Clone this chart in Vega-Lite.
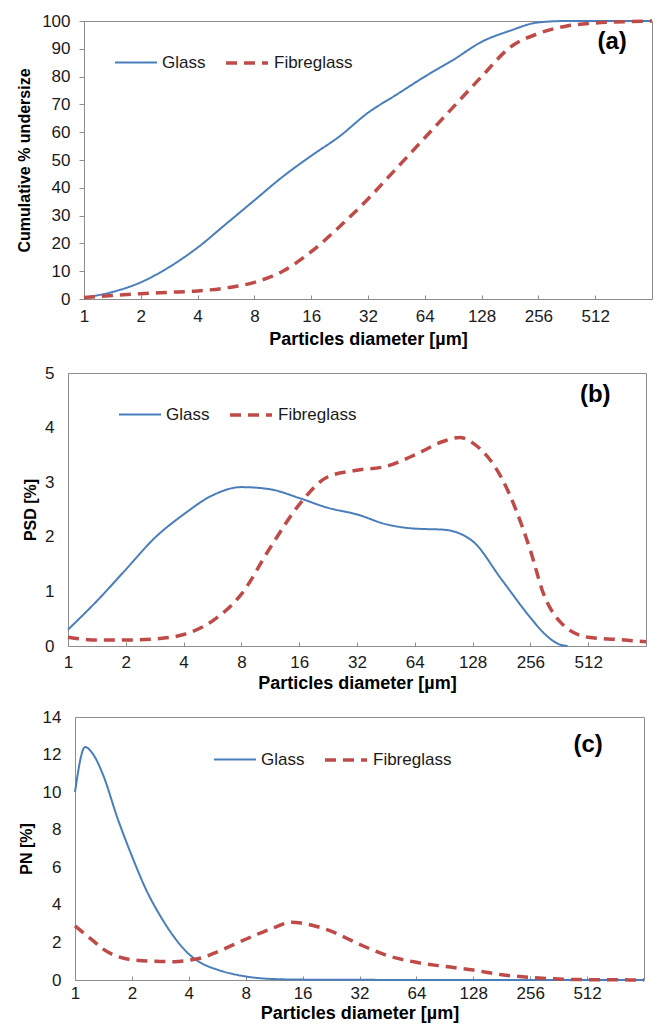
{
  "$schema": "https://vega.github.io/schema/vega-lite/v6.json",
  "padding": {"left": 12, "top": 11, "right": 4, "bottom": 0},
  "background": "white",
  "config": {
    "font": "Liberation Sans",
    "view": {"stroke": "#8c8c8c", "strokeWidth": 1},
    "axis": {
      "grid": false,
      "domainColor": "#8c8c8c",
      "tickColor": "#8c8c8c",
      "labelFont": "Liberation Sans",
      "labelFontSize": 17,
      "labelColor": "#1a1a1a",
      "labelOverlap": false,
      "titleFont": "Liberation Sans",
      "titleFontWeight": "bold",
      "titleColor": "#000000"
    },
    "axisX": {"titleFontSize": 18, "tickSize": -4},
    "axisY": {"titleFontSize": 16},
    "legend": {
      "orient": "none",
      "direction": "horizontal",
      "symbolType": "stroke",
      "symbolSize": 1764,
      "labelFont": "Liberation Sans",
      "labelFontSize": 17,
      "labelColor": "#1a1a1a",
      "labelOffset": 4,
      "columnPadding": 13,
      "padding": 0,
      "title": null
    }
  },
  "resolve": {
    "scale": {"x": "independent", "y": "independent", "color": "independent", "strokeDash": "independent", "strokeWidth": "independent"},
    "legend": {"color": "independent", "strokeDash": "independent", "strokeWidth": "independent"}
  },
  "datasets": {
    "a": [
      {"m": "Glass", "d": 1, "v": 0.5}, {"m": "Glass", "d": 1.41, "v": 2.5}, {"m": "Glass", "d": 2, "v": 6},
      {"m": "Glass", "d": 2.83, "v": 11.5}, {"m": "Glass", "d": 4, "v": 18.5}, {"m": "Glass", "d": 5.66, "v": 27},
      {"m": "Glass", "d": 8, "v": 35.5}, {"m": "Glass", "d": 11.3, "v": 44}, {"m": "Glass", "d": 16, "v": 51.5},
      {"m": "Glass", "d": 22.6, "v": 58.5}, {"m": "Glass", "d": 32, "v": 67}, {"m": "Glass", "d": 45.3, "v": 73.5},
      {"m": "Glass", "d": 64, "v": 80}, {"m": "Glass", "d": 90.5, "v": 86}, {"m": "Glass", "d": 128, "v": 92.5},
      {"m": "Glass", "d": 181, "v": 96.5}, {"m": "Glass", "d": 256, "v": 99.5}, {"m": "Glass", "d": 362, "v": 100},
      {"m": "Glass", "d": 512, "v": 100}, {"m": "Glass", "d": 724, "v": 100}, {"m": "Glass", "d": 1024, "v": 100},
      {"m": "Fibreglass", "d": 1, "v": 0.5}, {"m": "Fibreglass", "d": 1.41, "v": 1.3}, {"m": "Fibreglass", "d": 2, "v": 1.9},
      {"m": "Fibreglass", "d": 2.83, "v": 2.4}, {"m": "Fibreglass", "d": 4, "v": 2.9}, {"m": "Fibreglass", "d": 5.66, "v": 4},
      {"m": "Fibreglass", "d": 8, "v": 6}, {"m": "Fibreglass", "d": 11.3, "v": 10}, {"m": "Fibreglass", "d": 16, "v": 17},
      {"m": "Fibreglass", "d": 22.6, "v": 26}, {"m": "Fibreglass", "d": 32, "v": 36}, {"m": "Fibreglass", "d": 45.3, "v": 47},
      {"m": "Fibreglass", "d": 64, "v": 58}, {"m": "Fibreglass", "d": 90.5, "v": 69}, {"m": "Fibreglass", "d": 128, "v": 80},
      {"m": "Fibreglass", "d": 181, "v": 90.5}, {"m": "Fibreglass", "d": 256, "v": 95.5}, {"m": "Fibreglass", "d": 362, "v": 98.2},
      {"m": "Fibreglass", "d": 512, "v": 99.3}, {"m": "Fibreglass", "d": 724, "v": 99.7}, {"m": "Fibreglass", "d": 1024, "v": 100}
    ],
    "b": [
      {"m": "Glass", "d": 1, "v": 0.3}, {"m": "Glass", "d": 1.41, "v": 0.82}, {"m": "Glass", "d": 2, "v": 1.4},
      {"m": "Glass", "d": 2.83, "v": 1.98}, {"m": "Glass", "d": 4, "v": 2.41}, {"m": "Glass", "d": 5.66, "v": 2.76},
      {"m": "Glass", "d": 8, "v": 2.91}, {"m": "Glass", "d": 11.3, "v": 2.87}, {"m": "Glass", "d": 16, "v": 2.71},
      {"m": "Glass", "d": 22.6, "v": 2.53}, {"m": "Glass", "d": 32, "v": 2.41}, {"m": "Glass", "d": 45.3, "v": 2.23},
      {"m": "Glass", "d": 64, "v": 2.15}, {"m": "Glass", "d": 90.5, "v": 2.13}, {"m": "Glass", "d": 128, "v": 1.92},
      {"m": "Glass", "d": 181, "v": 1.22}, {"m": "Glass", "d": 256, "v": 0.52}, {"m": "Glass", "d": 300, "v": 0.24},
      {"m": "Glass", "d": 362, "v": 0.03}, {"m": "Glass", "d": 400, "v": 0},
      {"m": "Fibreglass", "d": 1, "v": 0.16}, {"m": "Fibreglass", "d": 1.41, "v": 0.11}, {"m": "Fibreglass", "d": 2, "v": 0.11},
      {"m": "Fibreglass", "d": 2.83, "v": 0.13}, {"m": "Fibreglass", "d": 4, "v": 0.21}, {"m": "Fibreglass", "d": 5.66, "v": 0.46},
      {"m": "Fibreglass", "d": 8, "v": 0.95}, {"m": "Fibreglass", "d": 11.3, "v": 1.8}, {"m": "Fibreglass", "d": 16, "v": 2.59},
      {"m": "Fibreglass", "d": 22.6, "v": 3.1}, {"m": "Fibreglass", "d": 32, "v": 3.22}, {"m": "Fibreglass", "d": 45.3, "v": 3.29},
      {"m": "Fibreglass", "d": 64, "v": 3.5}, {"m": "Fibreglass", "d": 90.5, "v": 3.75}, {"m": "Fibreglass", "d": 110, "v": 3.82},
      {"m": "Fibreglass", "d": 128, "v": 3.72}, {"m": "Fibreglass", "d": 181, "v": 3.08}, {"m": "Fibreglass", "d": 256, "v": 1.75},
      {"m": "Fibreglass", "d": 300, "v": 0.95}, {"m": "Fibreglass", "d": 362, "v": 0.46}, {"m": "Fibreglass", "d": 512, "v": 0.16},
      {"m": "Fibreglass", "d": 724, "v": 0.12}, {"m": "Fibreglass", "d": 1024, "v": 0.08}
    ],
    "c": [
      {"m": "Glass", "d": 1, "v": 10.0}, {"m": "Glass", "d": 1.13, "v": 12.4}, {"m": "Glass", "d": 1.25, "v": 12.0},
      {"m": "Glass", "d": 1.41, "v": 10.9}, {"m": "Glass", "d": 1.68, "v": 8.6}, {"m": "Glass", "d": 2, "v": 6.6},
      {"m": "Glass", "d": 2.38, "v": 4.8}, {"m": "Glass", "d": 2.83, "v": 3.4}, {"m": "Glass", "d": 3.36, "v": 2.26},
      {"m": "Glass", "d": 4, "v": 1.38}, {"m": "Glass", "d": 4.76, "v": 0.85}, {"m": "Glass", "d": 5.66, "v": 0.55},
      {"m": "Glass", "d": 8, "v": 0.19}, {"m": "Glass", "d": 11.3, "v": 0.05}, {"m": "Glass", "d": 16, "v": 0.02},
      {"m": "Glass", "d": 32, "v": 0.01}, {"m": "Glass", "d": 64, "v": 0}, {"m": "Glass", "d": 1024, "v": 0},
      {"m": "Fibreglass", "d": 1, "v": 2.88}, {"m": "Fibreglass", "d": 1.25, "v": 2.08}, {"m": "Fibreglass", "d": 1.41, "v": 1.64},
      {"m": "Fibreglass", "d": 1.68, "v": 1.25}, {"m": "Fibreglass", "d": 2, "v": 1.08}, {"m": "Fibreglass", "d": 2.83, "v": 0.99},
      {"m": "Fibreglass", "d": 3.36, "v": 0.97}, {"m": "Fibreglass", "d": 4, "v": 1.05}, {"m": "Fibreglass", "d": 4.76, "v": 1.2},
      {"m": "Fibreglass", "d": 5.66, "v": 1.5}, {"m": "Fibreglass", "d": 8, "v": 2.17}, {"m": "Fibreglass", "d": 11.3, "v": 2.79},
      {"m": "Fibreglass", "d": 14, "v": 3.08}, {"m": "Fibreglass", "d": 16, "v": 3.02}, {"m": "Fibreglass", "d": 22.6, "v": 2.6},
      {"m": "Fibreglass", "d": 32, "v": 1.9}, {"m": "Fibreglass", "d": 45.3, "v": 1.29}, {"m": "Fibreglass", "d": 64, "v": 0.94},
      {"m": "Fibreglass", "d": 90.5, "v": 0.72}, {"m": "Fibreglass", "d": 128, "v": 0.53}, {"m": "Fibreglass", "d": 181, "v": 0.28},
      {"m": "Fibreglass", "d": 256, "v": 0.14}, {"m": "Fibreglass", "d": 362, "v": 0.05}, {"m": "Fibreglass", "d": 512, "v": 0.02},
      {"m": "Fibreglass", "d": 724, "v": 0.01}, {"m": "Fibreglass", "d": 1024, "v": 0}
    ],
    "one": [{}],
    "none": []
  },
  "spacing": 14,
  "vconcat": [
    {"spacing": 0, "hconcat": [
    {"width": 4, "height": 1, "data": {"name": "none"}, "mark": "point", "view": {"stroke": null}},
    {
      "width": 568,
      "height": 278,
      "layer": [
        {
          "data": {"name": "a"},
          "mark": {"type": "line", "interpolate": "monotone"},
          "encoding": {
            "x": {"field": "d", "type": "quantitative", "scale": {"type": "log", "base": 2, "domain": [1, 1024], "nice": false}, "axis": {"values": [1, 2, 4, 8, 16, 32, 64, 128, 256, 512], "format": "d", "labelFlush": false, "labelOverlap": false, "tickCount": 20, "labelPadding": 13.5, "title": "Particles diameter [µm]", "titlePadding": 6}},
            "y": {"field": "v", "type": "quantitative", "scale": {"domain": [0, 100], "nice": false}, "axis": {"values": [0, 10, 20, 30, 40, 50, 60, 70, 80, 90, 100], "format": "d", "labelOverlap": false, "tickCount": 20, "tickSize": 5, "labelPadding": 9, "title": "Cumulative % undersize", "titlePadding": 9}},
            "color": {"field": "m", "type": "nominal", "scale": {"domain": ["Glass", "Fibreglass"], "range": ["#4A7EBB", "#BE4B48"]}, "legend": {"legendX": 102, "legendY": 19}},
            "strokeDash": {"field": "m", "type": "nominal", "scale": {"domain": ["Glass", "Fibreglass"], "range": [[1, 0], [11, 7]]}, "legend": {"legendX": 102, "legendY": 19}},
            "strokeWidth": {"field": "m", "type": "nominal", "scale": {"domain": ["Glass", "Fibreglass"], "range": [2, 3.5]}, "legend": {"legendX": 102, "legendY": 19}}
          }
        },
        {
          "data": {"name": "one"},
          "mark": {"type": "text", "fontSize": 24, "fontWeight": "bold", "font": "Liberation Sans", "color": "#000000"},
          "encoding": {"x": {"datum": 630}, "y": {"datum": 92.5}, "text": {"value": "(a)"}}
        }
      ]
    }]},
    {"spacing": 0, "hconcat": [
    {"width": 10, "height": 1, "data": {"name": "none"}, "mark": "point", "view": {"stroke": null}},
    {
      "width": 578,
      "height": 273,
      "layer": [
        {
          "data": {"name": "b"},
          "mark": {"type": "line", "interpolate": "monotone"},
          "encoding": {
            "x": {"field": "d", "type": "quantitative", "scale": {"type": "log", "base": 2, "domain": [1, 1024], "nice": false}, "axis": {"values": [1, 2, 4, 8, 16, 32, 64, 128, 256, 512], "format": "d", "labelFlush": false, "labelOverlap": false, "tickCount": 20, "labelPadding": 12.5, "title": "Particles diameter [µm]", "titlePadding": 3.5}},
            "y": {"field": "v", "type": "quantitative", "scale": {"domain": [0, 5], "nice": false}, "axis": {"values": [0, 1, 2, 3, 4, 5], "format": "d", "labelOverlap": false, "tickCount": 20, "ticks": false, "labelPadding": 14, "title": "PSD [%]", "titlePadding": 6}},
            "color": {"field": "m", "type": "nominal", "scale": {"domain": ["Glass", "Fibreglass"], "range": ["#4A7EBB", "#BE4B48"]}, "legend": {"legendX": 106, "legendY": 19}},
            "strokeDash": {"field": "m", "type": "nominal", "scale": {"domain": ["Glass", "Fibreglass"], "range": [[1, 0], [11, 7]]}, "legend": {"legendX": 106, "legendY": 19}},
            "strokeWidth": {"field": "m", "type": "nominal", "scale": {"domain": ["Glass", "Fibreglass"], "range": [2, 3.5]}, "legend": {"legendX": 106, "legendY": 19}}
          }
        },
        {
          "data": {"name": "one"},
          "mark": {"type": "text", "fontSize": 24, "fontWeight": "bold", "font": "Liberation Sans", "color": "#000000"},
          "encoding": {"x": {"datum": 557}, "y": {"datum": 4.6}, "text": {"value": "(b)"}}
        }
      ]
    }]},
    {"spacing": 0, "hconcat": [
    {"width": 6, "height": 1, "data": {"name": "none"}, "mark": "point", "view": {"stroke": null}},
    {
      "width": 569,
      "height": 263,
      "layer": [
        {
          "data": {"name": "c"},
          "mark": {"type": "line", "interpolate": "monotone"},
          "encoding": {
            "x": {"field": "d", "type": "quantitative", "scale": {"type": "log", "base": 2, "domain": [1, 1024], "nice": false}, "axis": {"values": [1, 2, 4, 8, 16, 32, 64, 128, 256, 512], "format": "d", "labelFlush": false, "labelOverlap": false, "tickCount": 20, "labelPadding": 9.5, "title": "Particles diameter [µm]", "titlePadding": 3}},
            "y": {"field": "v", "type": "quantitative", "scale": {"domain": [0, 14], "nice": false}, "axis": {"values": [0, 2, 4, 6, 8, 10, 12, 14], "format": "d", "labelOverlap": false, "tickCount": 20, "ticks": false, "labelPadding": 14, "title": "PN [%]", "titlePadding": 7.5}},
            "color": {"field": "m", "type": "nominal", "scale": {"domain": ["Glass", "Fibreglass"], "range": ["#4A7EBB", "#BE4B48"]}, "legend": {"legendX": 201, "legendY": 20}},
            "strokeDash": {"field": "m", "type": "nominal", "scale": {"domain": ["Glass", "Fibreglass"], "range": [[1, 0], [11, 7]]}, "legend": {"legendX": 201, "legendY": 20}},
            "strokeWidth": {"field": "m", "type": "nominal", "scale": {"domain": ["Glass", "Fibreglass"], "range": [2, 3.5]}, "legend": {"legendX": 201, "legendY": 20}}
          }
        },
        {
          "data": {"name": "one"},
          "mark": {"type": "text", "fontSize": 24, "fontWeight": "bold", "font": "Liberation Sans", "color": "#000000"},
          "encoding": {"x": {"datum": 518}, "y": {"datum": 12.5}, "text": {"value": "(c)"}}
        }
      ]
    }]}
  ]
}
